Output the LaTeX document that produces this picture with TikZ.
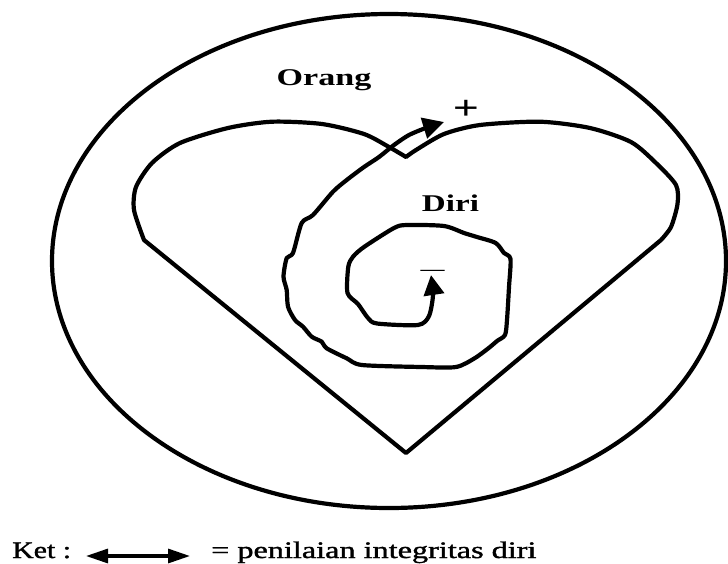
\documentclass[tikz,border=0pt]{standalone}
\usepackage{fontspec}
\usepackage{graphicx}
\setmainfont{Liberation Serif}
\newfontfamily\keyfont[FakeBold=1.2]{Liberation Serif}
\usetikzlibrary{arrows.meta}
\begin{document}
\begin{tikzpicture}[x=1pt,y=-1pt,
  outline/.style={line width=4.2pt, line join=round, line cap=round},
  spiral/.style={line width=4.2pt, line join=round,
    {Triangle[length=20pt,width=20pt]}-{Triangle[length=21pt,width=21pt]}},
  keyarrow/.style={line width=3.2pt,
    {Triangle[length=22pt,width=14pt]}-{Triangle[length=22pt,width=14pt]}},
  label/.style={inner sep=0pt, font=\fontsize{24}{26}\selectfont\bfseries, anchor=base},
  keytext/.style={inner sep=0pt, font=\fontsize{23.7}{26}\selectfont\keyfont, anchor=base west}]
\useasboundingbox (0,0) rectangle (728,563);
\fill[white] (0,0) rectangle (728,563);

% outer ellipse
\draw[outline] (389,261) ellipse [x radius=337pt, y radius=247pt];

% heart
\draw[outline]
  plot[smooth, tension=0.45] coordinates {(144,240) (134,210) (136,187) (152,163) (180,143) (228,128) (272,121.7) (322,124) (364,134) (389,147) (406,157)}
  -- plot[smooth, tension=0.45] coordinates {(406,157) (416,150) (444,134) (480,125) (540,121.7) (590,128) (631,142) (656,163) (676,185) (677.5,204) (671,227) (661,240)}
  -- (406,453) -- cycle;

% spiral
\draw[spiral] plot[smooth, tension=0.45] coordinates {
  (431,275) (433,295) (429,316) (418,325) (377,323.5) (368,318) (358,304) (347.5,293)
  (348.3,266.7) (353,256.7) (364,247) (394,228) (407,225) (444,226) (464,233) (477,237)
  (495.7,243) (504,253) (510.5,259) (509,287) (507,320) (505,335) (497,341) (490,347)
  (475,358) (456,367) (421.5,367) (362,365) (346.7,358.3) (326.7,348.3) (321.7,341.7)
  (311.7,336.7) (303,326.7) (295,320) (288,306.7) (286.7,290) (283.5,276.7) (286.7,258)
  (293,253) (301.7,223) (313,215) (333,191.7) (346.7,180) (364,167) (379,157) (394,145)
  (409,135) (427,127.5) (444,122)};

% labels
\node[label] (orang) at (324,85) {\scalebox{1.42}[1]{Orang}};
\node[label] (diri) at (450.5,211) {\scalebox{1.38}[1]{Diri}};
\node[inner sep=0pt, font=\fontsize{34}{36}\selectfont\bfseries, anchor=center] (plus) at (466,110) {\scalebox{1.35}[1]{+}};
\node[inner sep=0pt, font=\fontsize{24}{26}\selectfont, anchor=base] (minus) at (432.7,276.5) {—};

% key
\node[keytext] (ket) at (12,558) {\scalebox{1.26}[1]{Ket :}};
\coordinate (ka) at (86,556);
\coordinate (kb) at (190,556);
\draw[keyarrow] (ka) -- (kb);
\node[keytext] (ketdesc) at (211,558) {\scalebox{1.36}[1]{= penilaian integritas diri}};
\end{tikzpicture}
\end{document}
